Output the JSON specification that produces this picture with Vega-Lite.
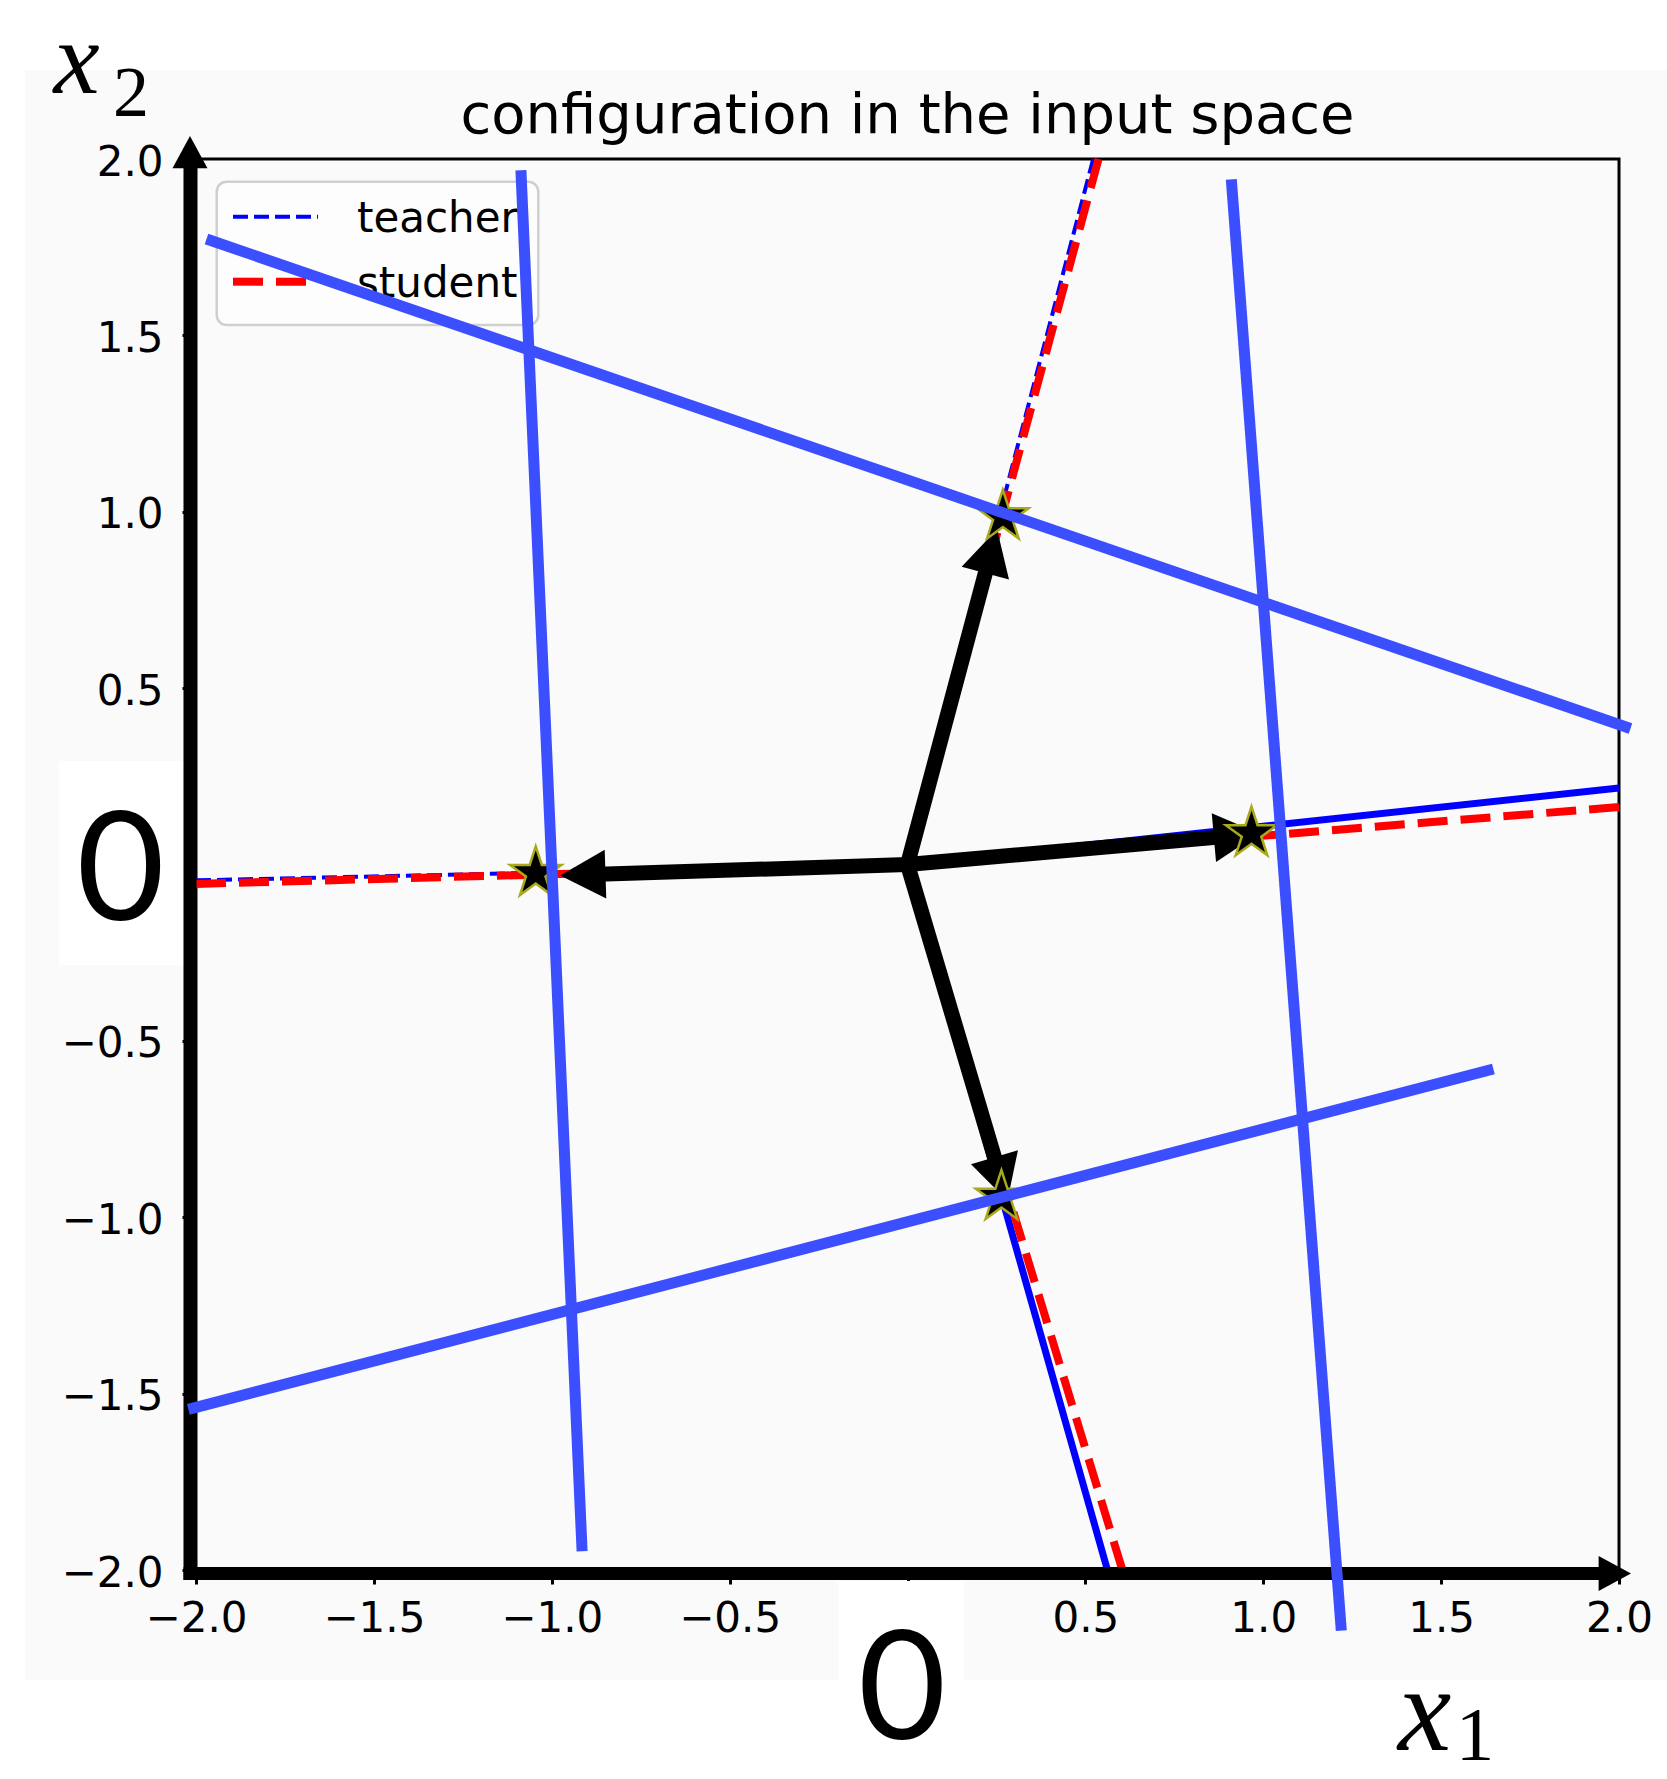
{
  "$schema": "https://vega.github.io/schema/vega-lite/v6.json",
  "width": 1423,
  "height": 1411,
  "autosize": "none",
  "padding": {"left": 196, "top": 159, "right": 48, "bottom": 209},
  "background": "#fafafa",
  "config": {
    "view": {"stroke": "#000000", "strokeWidth": 3},
    "axis": {"domain": false, "grid": false, "labelFont": "DejaVu Sans", "labelFontSize": 42, "labelColor": "#000000", "tickColor": "#000000", "tickSize": 14, "tickWidth": 3, "labelFlush": false, "labelOverlap": false},
    "axisX": {"labelPadding": 14},
    "axisY": {"labelPadding": 19, "labelOffset": 3}
  },
  "datasets": {
    "regions": [
      {"name": "top", "x": -2.56, "x2": 2.14, "y": 2.46, "y2": 2.2523},
      {"name": "left", "x": -2.56, "x2": -2.4807, "y": 2.2523, "y2": -2.3118},
      {"name": "bottom", "x": -2.56, "x2": 2.14, "y": -2.3118, "y2": -2.6},
      {"name": "zero_y", "x": -2.3843, "x2": -2.0338, "y": 0.2934, "y2": -0.2849},
      {"name": "zero_x", "x": -0.1937, "x2": 0.1597, "y": -2.0312, "y2": -2.6}
    ],
    "legend_box": [{"x": -1.9418, "x2": -1.0378, "y": 1.9356, "y2": 1.5294}],
    "legend_entries": [
      {"series": "teacher", "x": -1.896, "x2": -1.657, "y": 1.8364, "lx": -1.5475},
      {"series": "student", "x": -1.896, "x2": -1.657, "y": 1.6522, "lx": -1.5475}
    ],
    "rays": [
      {"series": "teacher", "dir": "top", "x": 0.522, "y": 2.0},
      {"series": "teacher", "dir": "left", "x": -2.0, "y": -0.045},
      {"series": "teacher", "dir": "right", "x": 2.0, "y": 0.217},
      {"series": "teacher", "dir": "bottom", "x": 0.562, "y": -2.0},
      {"series": "student", "dir": "top", "x": 0.537, "y": 2.0},
      {"series": "student", "dir": "left", "x": -2.0, "y": -0.055},
      {"series": "student", "dir": "right", "x": 2.0, "y": 0.163},
      {"series": "student", "dir": "bottom", "x": 0.604, "y": -2.0}
    ],
    "vectors": [
      {"dir": "top", "x": 0.241, "y": 0.91},
      {"dir": "right", "x": 0.947, "y": 0.084},
      {"dir": "left", "x": -0.935, "y": -0.03},
      {"dir": "bottom", "x": 0.269, "y": -0.913}
    ],
    "stars": [
      {"dir": "top", "x": 0.268, "y": 0.986},
      {"dir": "right", "x": 0.967, "y": 0.088},
      {"dir": "left", "x": -1.045, "y": -0.025},
      {"dir": "bottom", "x": 0.264, "y": -0.943}
    ],
    "axis_arrows": [
      {"axis": "x1", "x": 1.9993, "y": -2.0099, "x0": -2.0351, "y0": -2.0099},
      {"axis": "x2", "x": -2.0169, "y": 2.0305, "x0": -2.0169, "y0": -2.0284}
    ],
    "overlay": [
      {"id": 1, "x": -1.9705, "y": 1.7732, "x2": 2.0323, "y2": 0.3855},
      {"id": 2, "x": -1.0867, "y": 1.9682, "x2": -0.9147, "y2": -1.947},
      {"id": 3, "x": 0.9102, "y": 1.9424, "x2": 1.2194, "y2": -2.1721},
      {"id": 4, "x": -2.0214, "y": -1.5447, "x2": 1.6469, "y2": -0.5797}
    ],
    "title": [{"text": "configuration in the input space", "x": 0, "y": 2.0737}],
    "zeros": [
      {"text": "0", "x": -2.212, "y": -0.157},
      {"text": "0", "x": -0.0155, "y": -2.479}
    ],
    "axis_names": [
      {"axis": "x1", "text": "x", "x": 1.4533, "y": -2.5103},
      {"axis": "x2", "text": "x", "x": -2.3359, "y": 2.1871}
    ],
    "axis_subscripts": [
      {"axis": "x1", "text": "1", "x": 1.5952, "y": -2.5386},
      {"axis": "x2", "text": "2", "x": -2.1827, "y": 2.1219}
    ]
  },
  "encoding": {
    "x": {"field": "x", "type": "quantitative", "scale": {"domain": [-2, 2], "nice": false, "zero": false}, "axis": {"title": null, "values": [-2, -1.5, -1, -0.5, 0, 0.5, 1, 1.5, 2], "format": ".1f", "labelExpr": "datum.value === 0 ? '' : datum.label"}},
    "y": {"field": "y", "type": "quantitative", "scale": {"domain": [-2, 2], "nice": false, "zero": false}, "axis": {"title": null, "values": [-2, -1.5, -1, -0.5, 0, 0.5, 1, 1.5, 2], "format": ".1f", "labelExpr": "datum.value === 0 ? '' : datum.label"}}
  },
  "layer": [
    {
      "data": {"name": "regions"},
      "mark": {"type": "rect", "color": "#ffffff"},
      "encoding": {"x2": {"field": "x2"}, "y2": {"field": "y2"}}
    },
    {
      "data": {"name": "legend_box"},
      "mark": {"type": "rect", "fill": "#fdfdfd", "stroke": "#cfcfcf", "strokeWidth": 2.5, "cornerRadius": 10},
      "encoding": {"x2": {"field": "x2"}, "y2": {"field": "y2"}}
    },
    {
      "data": {"name": "rays"},
      "transform": [{"filter": "datum.series === 'teacher' && (datum.dir === 'right' || datum.dir === 'bottom')"}],
      "mark": {"type": "rule", "color": "#0000ff", "strokeWidth": 7},
      "encoding": {"x2": {"datum": 0}, "y2": {"datum": 0}}
    },
    {
      "data": {"name": "rays"},
      "transform": [{"filter": "datum.series === 'student' || datum.dir === 'top' || datum.dir === 'left'"}],
      "mark": {"type": "rule"},
      "encoding": {
        "x2": {"datum": 0},
        "y2": {"datum": 0},
        "color": {"field": "series", "type": "nominal", "scale": {"domain": ["teacher", "student"], "range": ["#0000ff", "#ff0000"]}, "legend": null},
        "strokeDash": {"field": "series", "type": "nominal", "scale": {"domain": ["teacher", "student"], "range": [[15, 6], [30, 13]]}, "legend": null},
        "strokeWidth": {"field": "series", "type": "ordinal", "scale": {"domain": ["teacher", "student"], "range": [4, 8]}, "legend": null},
        "order": {"field": "series", "sort": "descending"}
      }
    },
    {
      "data": {"name": "legend_entries"},
      "mark": {"type": "rule"},
      "encoding": {
        "x2": {"field": "x2"},
        "color": {"field": "series", "type": "nominal", "scale": {"domain": ["teacher", "student"], "range": ["#0000ff", "#ff0000"]}, "legend": null},
        "strokeDash": {"field": "series", "type": "nominal", "scale": {"domain": ["teacher", "student"], "range": [[15, 6], [30, 13]]}, "legend": null},
        "strokeWidth": {"field": "series", "type": "ordinal", "scale": {"domain": ["teacher", "student"], "range": [4, 8]}, "legend": null}
      }
    },
    {
      "data": {"name": "legend_entries"},
      "mark": {"type": "text", "font": "DejaVu Sans", "fontSize": 42, "align": "left", "baseline": "middle", "color": "#000000", "dy": 2},
      "encoding": {
        "x": {"field": "lx", "type": "quantitative", "scale": {"domain": [-2, 2], "nice": false, "zero": false}},
        "text": {"field": "series"}
      }
    },
    {
      "data": {"name": "title"},
      "mark": {"type": "text", "font": "DejaVu Sans", "fontSize": 56, "align": "center", "baseline": "alphabetic", "color": "#000000"},
      "encoding": {"text": {"field": "text"}}
    },
    {
      "data": {"name": "vectors"},
      "mark": {"type": "rule", "color": "#000000", "strokeWidth": 15},
      "encoding": {"x2": {"datum": 0}, "y2": {"datum": 0}}
    },
    {
      "data": {"name": "vectors"},
      "transform": [{"filter": "datum.dir === 'top'"}],
      "mark": {"type": "point", "shape": "M0,-0.6L-1,1.25L1,1.25Z", "size": 2400, "filled": true, "color": "#000000", "opacity": 1, "strokeWidth": 0, "angle": 14.95}
    },
    {
      "data": {"name": "vectors"},
      "transform": [{"filter": "datum.dir === 'right'"}],
      "mark": {"type": "point", "shape": "M0,-0.6L-1,1.25L1,1.25Z", "size": 2400, "filled": true, "color": "#000000", "opacity": 1, "strokeWidth": 0, "angle": 84.98}
    },
    {
      "data": {"name": "vectors"},
      "transform": [{"filter": "datum.dir === 'left'"}],
      "mark": {"type": "point", "shape": "M0,-0.6L-1,1.25L1,1.25Z", "size": 2400, "filled": true, "color": "#000000", "opacity": 1, "strokeWidth": 0, "angle": 268.2}
    },
    {
      "data": {"name": "vectors"},
      "transform": [{"filter": "datum.dir === 'bottom'"}],
      "mark": {"type": "point", "shape": "M0,-0.6L-1,1.25L1,1.25Z", "size": 2400, "filled": true, "color": "#000000", "opacity": 1, "strokeWidth": 0, "angle": 163.45}
    },
    {
      "data": {"name": "stars"},
      "mark": {"type": "point", "shape": "M0,-1L0.225,-0.309L0.951,-0.309L0.363,0.118L0.588,0.809L0,0.382L-0.588,0.809L-0.363,0.118L-0.951,-0.309L-0.225,-0.309Z", "size": 2900, "filled": true, "fill": "#000000", "stroke": "#a9a91c", "strokeWidth": 2.5, "opacity": 1}
    },
    {
      "data": {"name": "axis_arrows"},
      "mark": {"type": "rule", "color": "#000000", "strokeWidth": 13},
      "encoding": {"x2": {"field": "x0"}, "y2": {"field": "y0"}}
    },
    {
      "data": {"name": "axis_arrows"},
      "transform": [{"filter": "datum.axis === 'x1'"}],
      "mark": {"type": "point", "shape": "M0,-0.7L-1,1.15L1,1.15Z", "size": 1225, "filled": true, "color": "#000000", "opacity": 1, "strokeWidth": 0, "angle": 90}
    },
    {
      "data": {"name": "axis_arrows"},
      "transform": [{"filter": "datum.axis === 'x2'"}],
      "mark": {"type": "point", "shape": "M0,-0.7L-1,1.15L1,1.15Z", "size": 1225, "filled": true, "color": "#000000", "opacity": 1, "strokeWidth": 0, "angle": 0}
    },
    {
      "data": {"name": "overlay"},
      "mark": {"type": "rule", "color": "#3c4fff", "strokeWidth": 11},
      "encoding": {"x2": {"field": "x2"}, "y2": {"field": "y2"}}
    },
    {
      "data": {"name": "zeros"},
      "mark": {"type": "text", "font": "Lato", "fontSize": 152, "align": "center", "baseline": "alphabetic", "color": "#000000"},
      "encoding": {"text": {"field": "text"}}
    },
    {
      "data": {"name": "axis_names"},
      "transform": [{"filter": "datum.axis === 'x1'"}],
      "mark": {"type": "text", "font": "Liberation Serif", "fontStyle": "italic", "fontSize": 120, "align": "center", "baseline": "alphabetic", "color": "#000000"},
      "encoding": {"text": {"field": "text"}}
    },
    {
      "data": {"name": "axis_names"},
      "transform": [{"filter": "datum.axis === 'x2'"}],
      "mark": {"type": "text", "font": "Liberation Serif", "fontStyle": "italic", "fontSize": 104, "align": "center", "baseline": "alphabetic", "color": "#000000"},
      "encoding": {"text": {"field": "text"}}
    },
    {
      "data": {"name": "axis_subscripts"},
      "transform": [{"filter": "datum.axis === 'x1'"}],
      "mark": {"type": "text", "font": "Liberation Serif", "fontSize": 77, "align": "center", "baseline": "alphabetic", "color": "#000000"},
      "encoding": {"text": {"field": "text"}}
    },
    {
      "data": {"name": "axis_subscripts"},
      "transform": [{"filter": "datum.axis === 'x2'"}],
      "mark": {"type": "text", "font": "Liberation Serif", "fontSize": 72, "align": "center", "baseline": "alphabetic", "color": "#000000"},
      "encoding": {"text": {"field": "text"}}
    }
  ]
}
